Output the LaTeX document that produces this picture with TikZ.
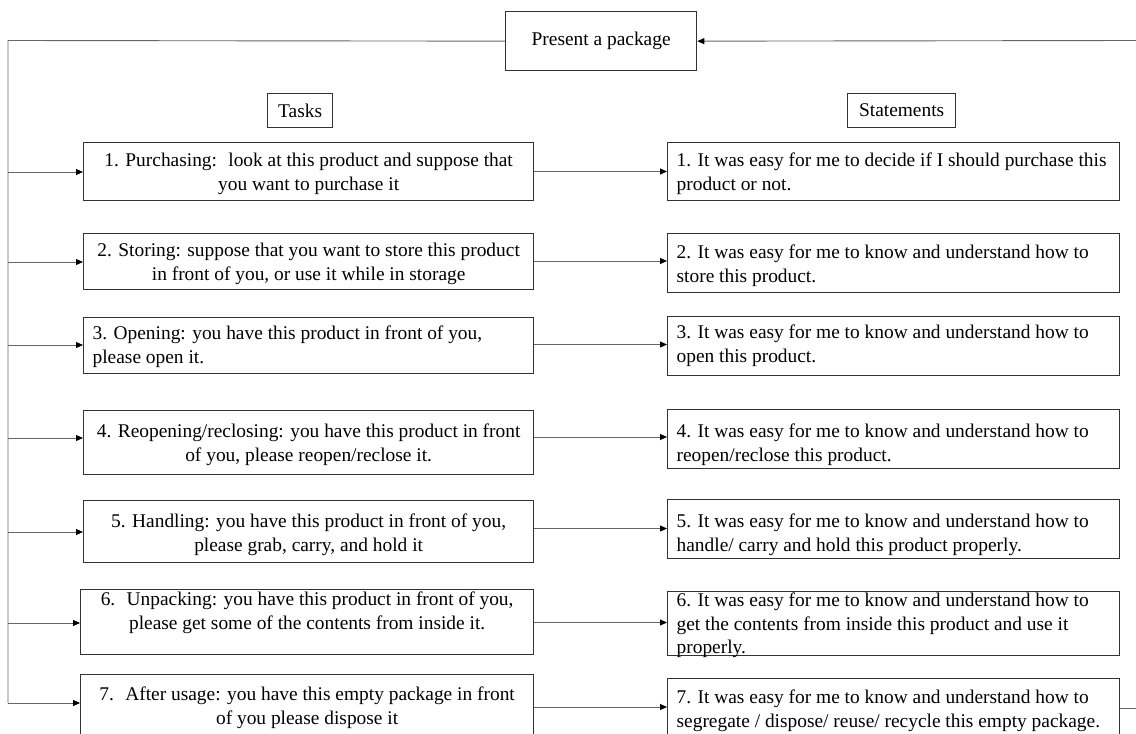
\documentclass[tikz,border=0pt]{standalone}
\usepackage{fontspec}
\setmainfont{Liberation Serif}
\usetikzlibrary{arrows.meta}
% #1 box height, #2 text width, #3 alignment, #4 first baseline offset, #5 text
\newcommand\pbx[5]{\parbox[c][#1pt][t]{#2pt}{#3\vspace*{\dimexpr #4pt-16.45pt\relax}\strut #5\par}}
\begin{document}
\begin{tikzpicture}[x=1pt,y=-1pt,
  every node/.style={font=\fontsize{19.4}{23.5}\selectfont, text=black},
  box/.style={draw=black!80, line width=1.3pt, inner sep=0pt, anchor=north west},
  conn/.style={draw=black!60, line width=0.9pt},
  arr/.style={conn, -{Triangle[length=7pt,width=6pt,color=black]}}]
\path[use as bounding box, clip] (0,0) rectangle (1136,734);

% header boxes
\node[box, minimum width=191pt, minimum height=59pt] (P) at (505,11) {Present a package};
\node[box, minimum width=65pt, minimum height=34pt] (tasks) at (267,93) {Tasks};
\node[box, minimum width=108pt, minimum height=34pt] (stats) at (847,93) {Statements};

% task boxes
\node[box, minimum width=450pt, minimum height=58pt] (t1) at (83,142)
  {\pbx{58}{432}{\centering}{24}{1. Purchasing:~ look at this product and suppose that\\you want to purchase it}};
\node[box, minimum width=450pt, minimum height=56pt] (t2) at (83,233)
  {\pbx{56}{432}{\centering}{23}{2. Storing: suppose that you want to store this product\\in front of you, or use it while in storage}};
\node[box, minimum width=450pt, minimum height=56pt] (t3) at (83,317)
  {\pbx{56}{432}{\raggedright}{22}{3. Opening: you have this product in front of you,\\please open it.}};
\node[box, minimum width=450pt, minimum height=64pt] (t4) at (83,410)
  {\pbx{64}{432}{\centering}{27}{4. Reopening/reclosing: you have this product in front\\of you, please reopen/reclose it.}};
\node[box, minimum width=450pt, minimum height=62pt] (t5) at (83,500)
  {\pbx{62}{432}{\centering}{27}{5. Handling: you have this product in front of you,\\please grab, carry, and hold it}};
\node[box, minimum width=453pt, minimum height=65pt] (t6) at (80,589)
  {\pbx{65}{435}{\centering}{16}{6.~ Unpacking: you have this product in front of you,\\please get some of the contents from inside it.}};
\node[box, minimum width=453pt, minimum height=80pt] (t7) at (80,674)
  {\pbx{80}{435}{\centering}{26}{7.~ After usage: you have this empty package in front\\of you please dispose it}};

% statement boxes
\node[box, minimum width=452pt, minimum height=58pt] (s1) at (667,142)
  {\pbx{58}{434}{\raggedright}{24}{1. It was easy for me to decide if I should purchase this\\product or not.}};
\node[box, minimum width=452pt, minimum height=59pt] (s2) at (667,233)
  {\pbx{59}{434}{\raggedright}{25}{2. It was easy for me to know and understand how to\\store this product.}};
\node[box, minimum width=452pt, minimum height=59pt] (s3) at (667,316)
  {\pbx{59}{434}{\raggedright}{22}{3. It was easy for me to know and understand how to\\open this product.}};
\node[box, minimum width=452pt, minimum height=59pt] (s4) at (667,409)
  {\pbx{59}{434}{\raggedright}{28}{4. It was easy for me to know and understand how to\\reopen/reclose this product.}};
\node[box, minimum width=452pt, minimum height=59pt] (s5) at (667,499)
  {\pbx{59}{434}{\raggedright}{28}{5. It was easy for me to know and understand how to\\handle/ carry and hold this product properly.}};
\node[box, minimum width=452pt, minimum height=64pt] (s6) at (667,591)
  {\pbx{64}{434}{\raggedright}{15}{6. It was easy for me to know and understand how to\\get the contents from inside this product and use it\\properly.}};
\node[box, minimum width=452pt, minimum height=76pt] (s7) at (667,678)
  {\pbx{76}{434}{\raggedright}{25}{7. It was easy for me to know and understand how to\\segregate / dispose/ reuse/ recycle this empty package.}};

% bus on the left
\coordinate (TL) at (8,40.5);
\coordinate (BL) at (8,703);
\draw[conn] (P.west) -- (TL) -- (BL);
\coordinate (L1) at (8,172);
\coordinate (L2) at (8,262);
\coordinate (L3) at (8,345);
\coordinate (L4) at (8,438);
\coordinate (L5) at (8,532);
\coordinate (L6) at (8,623);
\draw[arr] (L1) -- (t1.west |- L1);
\draw[arr] (L2) -- (t2.west |- L2);
\draw[arr] (L3) -- (t3.west |- L3);
\draw[arr] (L4) -- (t4.west |- L4);
\draw[arr] (L5) -- (t5.west |- L5);
\draw[arr] (L6) -- (t6.west |- L6);
\draw[arr] (BL) -- (t7.west |- BL);

% task -> statement
\coordinate (M1) at (600,171.5);
\coordinate (M2) at (600,261);
\coordinate (M3) at (600,344.5);
\coordinate (M4) at (600,437);
\coordinate (M5) at (600,528.5);
\coordinate (M6) at (600,622.5);
\coordinate (M7) at (600,707);
\draw[arr] (t1.east |- M1) -- (s1.west |- M1);
\draw[arr] (t2.east |- M2) -- (s2.west |- M2);
\draw[arr] (t3.east |- M3) -- (s3.west |- M3);
\draw[arr] (t4.east |- M4) -- (s4.west |- M4);
\draw[arr] (t5.east |- M5) -- (s5.west |- M5);
\draw[arr] (t6.east |- M6) -- (s6.west |- M6);
\draw[arr] (t7.east |- M7) -- (s7.west |- M7);

% loop back on the right
\coordinate (TR) at (1136,40.5);
\coordinate (BR) at (1136,708);
\draw[arr] (TR) -- (P.east);
\draw[conn] (s7.east |- BR) -- (BR);
\end{tikzpicture}
\end{document}
